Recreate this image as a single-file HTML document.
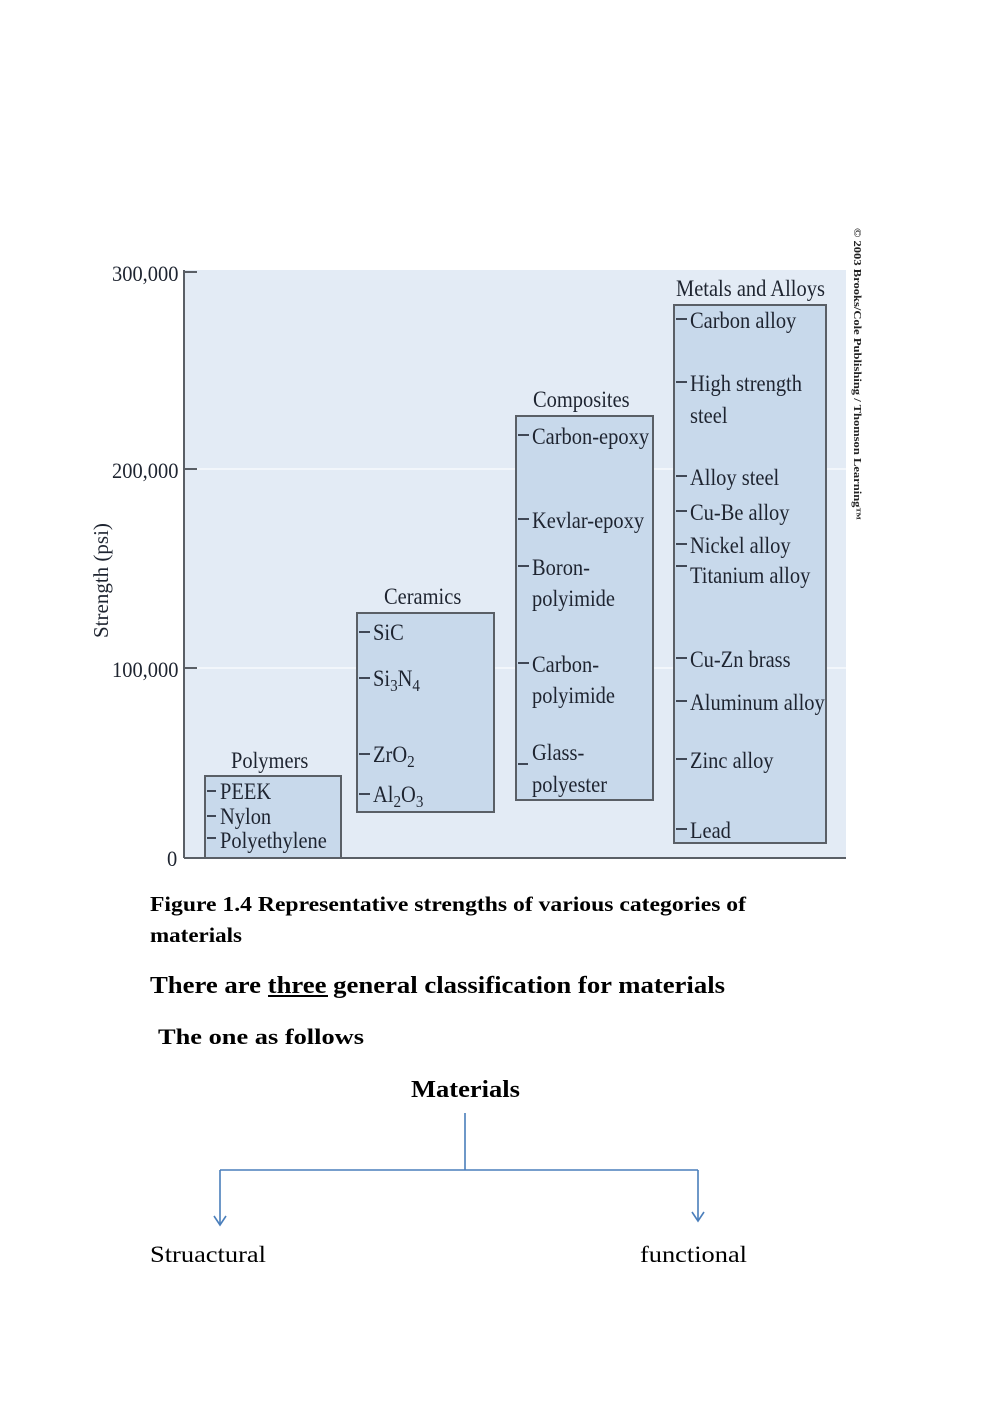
<!DOCTYPE html>
<html><head><meta charset="utf-8"><style>
html,body{margin:0;padding:0;background:#fff;}
svg{display:block;}
.t{font-family:"Liberation Serif",serif;font-size:23px;fill:#1e2430;}
.b{font-family:"Liberation Serif",serif;font-weight:bold;fill:#000;}
</style></head><body>
<svg width="993" height="1403" viewBox="0 0 993 1403" xmlns="http://www.w3.org/2000/svg">
<rect x="184" y="270" width="662" height="588" fill="#e3ebf5"/>
<g stroke="#f2f6fb" stroke-width="2"><line x1="186" y1="469" x2="846" y2="469"/><line x1="186" y1="668" x2="846" y2="668"/></g>
<g stroke="#5a5f66" stroke-width="2" fill="none">
<line x1="184" y1="270" x2="184" y2="858"/><line x1="184" y1="858" x2="846" y2="858"/>
<line x1="184" y1="272" x2="197" y2="272"/><line x1="184" y1="469" x2="197" y2="469"/><line x1="184" y1="668" x2="197" y2="668"/>
</g>
<g fill="#c8d9eb" stroke="#5a5f66" stroke-width="2">
<rect x="205" y="776" width="136" height="82"/>
<rect x="357" y="613" width="137" height="199"/>
<rect x="516" y="416" width="137" height="384"/>
<rect x="674" y="305" width="152" height="538"/>
</g>
<g class="t" style="font-size:22px">
<text transform="translate(112 281) scale(.93 1)">300,000</text>
<text transform="translate(112 478) scale(.93 1)">200,000</text>
<text transform="translate(112 677) scale(.93 1)">100,000</text>
<text transform="translate(167 866) scale(.93 1)">0</text>
</g>
<text class="t" transform="translate(108 638) rotate(-90)" style="font-size:21px">Strength (psi)</text>
<g stroke="#1e2430" stroke-width="1.6">
<line x1="207" y1="791" x2="216" y2="791"/><line x1="207" y1="816" x2="216" y2="816"/><line x1="207" y1="838" x2="216" y2="838"/>
<line x1="359" y1="632" x2="370" y2="632"/><line x1="359" y1="678" x2="370" y2="678"/><line x1="359" y1="754" x2="370" y2="754"/><line x1="359" y1="794" x2="370" y2="794"/>
<line x1="518" y1="435" x2="529" y2="435"/><line x1="518" y1="519" x2="529" y2="519"/><line x1="518" y1="566" x2="529" y2="566"/><line x1="518" y1="663" x2="529" y2="663"/><line x1="518" y1="764" x2="528" y2="764"/>
<line x1="676" y1="319" x2="687" y2="319"/><line x1="676" y1="382" x2="687" y2="382"/><line x1="676" y1="476" x2="687" y2="476"/><line x1="676" y1="511" x2="687" y2="511"/><line x1="676" y1="544" x2="687" y2="544"/><line x1="676" y1="566" x2="687" y2="566"/><line x1="676" y1="658" x2="687" y2="658"/><line x1="676" y1="701" x2="687" y2="701"/><line x1="676" y1="759" x2="687" y2="759"/><line x1="676" y1="829" x2="687" y2="829"/>
</g>
<g class="t">
<text transform="translate(231 768) scale(.89 1)">Polymers</text>
<text transform="translate(384 604) scale(.89 1)">Ceramics</text>
<text transform="translate(533 407) scale(.89 1)">Composites</text>
<text transform="translate(676 296) scale(.89 1)">Metals and Alloys</text>
<text transform="translate(220 799) scale(.89 1)">PEEK</text>
<text transform="translate(220 824) scale(.89 1)">Nylon</text>
<text transform="translate(220 848) scale(.89 1)">Polyethylene</text>
<text transform="translate(373 640) scale(.89 1)">SiC</text>
<text transform="translate(373 686) scale(.89 1)">Si<tspan font-size="17" dy="5">3</tspan><tspan dy="-5">N</tspan><tspan font-size="17" dy="5">4</tspan></text>
<text transform="translate(373 762) scale(.89 1)">ZrO<tspan font-size="17" dy="5">2</tspan></text>
<text transform="translate(373 802) scale(.89 1)">Al<tspan font-size="17" dy="5">2</tspan><tspan dy="-5">O</tspan><tspan font-size="17" dy="5">3</tspan></text>
<text transform="translate(532 444) scale(.89 1)">Carbon-epoxy</text>
<text transform="translate(532 528) scale(.89 1)">Kevlar-epoxy</text>
<text transform="translate(532 575) scale(.89 1)">Boron-</text>
<text transform="translate(532 606) scale(.89 1)">polyimide</text>
<text transform="translate(532 672) scale(.89 1)">Carbon-</text>
<text transform="translate(532 703) scale(.89 1)">polyimide</text>
<text transform="translate(532 760) scale(.89 1)">Glass-</text>
<text transform="translate(532 792) scale(.89 1)">polyester</text>
<text transform="translate(690 328) scale(.89 1)">Carbon alloy</text>
<text transform="translate(690 391) scale(.89 1)">High strength</text>
<text transform="translate(690 423) scale(.89 1)">steel</text>
<text transform="translate(690 485) scale(.89 1)">Alloy steel</text>
<text transform="translate(690 520) scale(.89 1)">Cu-Be alloy</text>
<text transform="translate(690 553) scale(.89 1)">Nickel alloy</text>
<text transform="translate(690 583) scale(.89 1)">Titanium alloy</text>
<text transform="translate(690 667) scale(.89 1)">Cu-Zn brass</text>
<text transform="translate(690 710) scale(.89 1)">Aluminum alloy</text>
<text transform="translate(690 768) scale(.89 1)">Zinc alloy</text>
<text transform="translate(690 838) scale(.89 1)">Lead</text>
</g>
<text transform="translate(854 228) rotate(90)" textLength="292" lengthAdjust="spacingAndGlyphs" style="font-family:'Liberation Serif',serif;font-size:10px;font-weight:bold;fill:#222">© 2003 Brooks/Cole Publishing / Thomson Learning™</text>
<text class="b" x="150" y="911" textLength="596" lengthAdjust="spacingAndGlyphs" style="font-size:21px">Figure 1.4  Representative strengths of various categories of</text>
<text class="b" x="150" y="942" textLength="92" lengthAdjust="spacingAndGlyphs" style="font-size:21px">materials</text>
<text class="b" x="150" y="993" textLength="575" lengthAdjust="spacingAndGlyphs" style="font-size:24px">There are three general classification for materials</text>
<line x1="268" y1="996" x2="328" y2="996" stroke="#000" stroke-width="2"/>
<text class="b" x="158" y="1044" textLength="206" lengthAdjust="spacingAndGlyphs" style="font-size:22px">The one as follows</text>
<text class="b" x="411" y="1097" textLength="109" lengthAdjust="spacingAndGlyphs" style="font-size:24px">Materials</text>
<g stroke="#4a7ebb" stroke-width="1.6" fill="none">
<line x1="465" y1="1113" x2="465" y2="1170"/>
<line x1="220" y1="1170" x2="698" y2="1170"/>
<line x1="220" y1="1170" x2="220" y2="1224"/>
<line x1="698" y1="1170" x2="698" y2="1220"/>
<polyline points="214,1216 220,1225 226,1216"/>
<polyline points="692,1212 698,1221 704,1212"/>
</g>
<text x="150" y="1262" textLength="116" lengthAdjust="spacingAndGlyphs" style="font-family:'Liberation Serif',serif;font-size:23px;fill:#000">Struactural</text>
<text x="640" y="1262" textLength="107" lengthAdjust="spacingAndGlyphs" style="font-family:'Liberation Serif',serif;font-size:23px;fill:#000">functional</text>
</svg>
</body></html>
